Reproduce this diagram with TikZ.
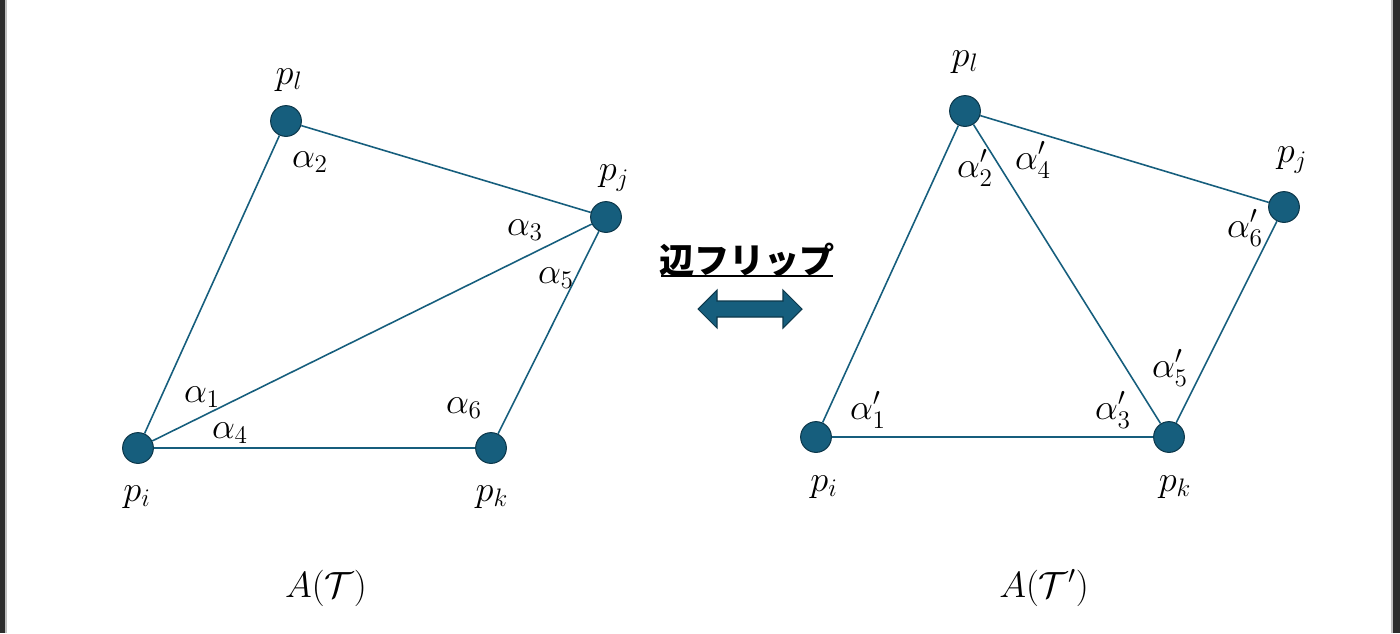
\documentclass[tikz,border=0pt]{standalone}
\usepackage{fontspec}
\newfontfamily\jpfont{Noto Sans CJK JP}
\usetikzlibrary{calc}
\definecolor{vblue}{RGB}{22,94,125}
\definecolor{frame}{RGB}{45,45,45}
\tikzset{dot/.style={circle,fill=vblue,draw=vblue!60!black,line width=.6pt,minimum size=17.5pt,inner sep=0pt},
 edge/.style={draw=vblue,line width=.9pt},
 lbl/.style={font=\fontsize{20}{24}\selectfont,inner sep=0pt},
 caption/.style={font=\fontsize{22}{26}\selectfont,inner sep=0pt}}

\begin{document}
\begin{tikzpicture}[x=0.02cm,y=-0.02cm]
\useasboundingbox (0,0) rectangle (1400,633);
\fill[white] (0,0) rectangle (1400,633);
\fill[frame] (0,0) rectangle (5,633); \fill[black!25] (5,0) rectangle (7,633);
\fill[frame] (1393,0) rectangle (1400,633); \fill[black!25] (1391,0) rectangle (1393,633);
% left triangulation
\node[dot] (Li) at (138,448) {}; \node[dot] (Ll) at (286,121) {}; \node[dot] (Lj) at (606,217) {}; \node[dot] (Lk) at (491,448) {};
\draw[edge] (Li)--(Ll)--(Lj)--(Lk)--(Li); \draw[edge] (Li)--(Lj);
\node[lbl] (Lpl) at (289,80) {$p_l$}; \node[lbl] (Lpj) at (614,178) {$p_j$};
\node[lbl] (Lpi) at (137,497) {$p_i$}; \node[lbl] (Lpk) at (492,497) {$p_k$};
\node[lbl] (La1) at (202,397) {$\alpha_1$}; \node[lbl] (La2) at (310,162) {$\alpha_2$}; \node[lbl] (La3) at (525,230) {$\alpha_3$};
\node[lbl] (La4) at (230,433) {$\alpha_4$}; \node[lbl] (La5) at (556,278) {$\alpha_5$}; \node[lbl] (La6) at (464,408) {$\alpha_6$};
\node[caption] (LA) at (326,588) {$A(\mathcal{T})$};
% right triangulation
\node[dot] (Ri) at (816,437) {}; \node[dot] (Rl) at (965,111) {}; \node[dot] (Rj) at (1284,207) {}; \node[dot] (Rk) at (1169,437) {};
\draw[edge] (Ri)--(Rl)--(Rj)--(Rk)--(Ri); \draw[edge] (Rl)--(Rk);
\node[lbl] (Rpl) at (965,62) {$p_l$}; \node[lbl] (Rpj) at (1292,160) {$p_j$};
\node[lbl] (Rpi) at (824,487) {$p_i$}; \node[lbl] (Rpk) at (1175,487) {$p_k$};
\node[lbl] (Ra1) at (868,410) {$\alpha'_1$}; \node[lbl] (Ra2) at (975,168) {$\alpha'_2$}; \node[lbl] (Ra3) at (1113,410) {$\alpha'_3$};
\node[lbl] (Ra4) at (1033,160) {$\alpha'_4$}; \node[lbl] (Ra5) at (1170,368) {$\alpha'_5$}; \node[lbl] (Ra6) at (1245,228) {$\alpha'_6$};
\node[caption] (RA) at (1044,588) {$A(\mathcal{T}')$};
% flip
\node[inner sep=0pt,font=\jpfont\bfseries\fontsize{20}{24}\selectfont] (flip) at (747,260) {辺フリップ};
\draw[line width=1.3pt] (661,276)--(833,276);
\filldraw[fill=vblue,draw=vblue!60!black,line width=.6pt] (698,309)--(717,290)--(717,301)--(783,301)--(783,290)--(802,309)--(783,328)--(783,317)--(717,317)--(717,328)--cycle;
\end{tikzpicture}
\end{document}
